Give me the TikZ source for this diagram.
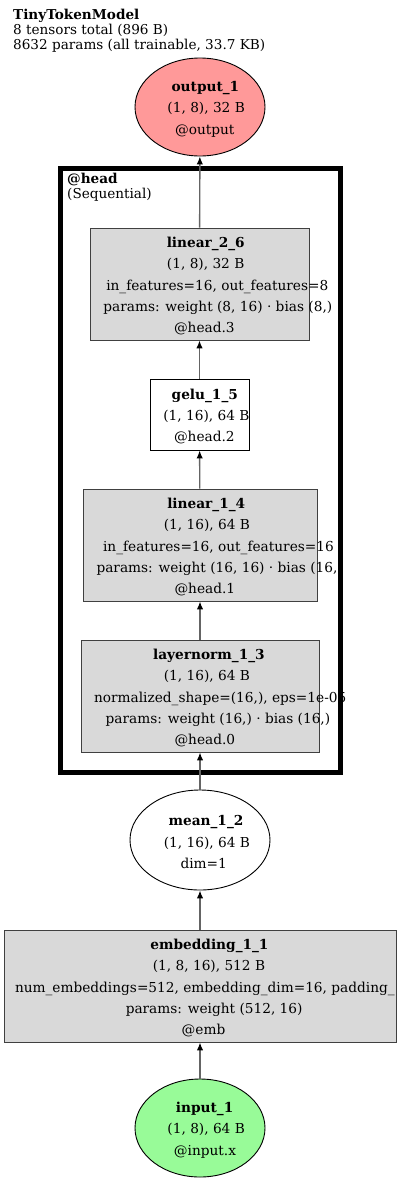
\documentclass[tikz,border=0pt]{standalone}
\usepackage{fontspec}
\setmainfont{DejaVu Serif}
\usetikzlibrary{shapes.geometric,arrows.meta}
\definecolor{outred}{RGB}{255,153,153}
\definecolor{ingreen}{RGB}{152,251,152}
\definecolor{opgray}{RGB}{217,217,217}
\definecolor{edgegray}{RGB}{100,100,100}
\newcommand\nodefont{\fontsize{13.7}{21.2}\selectfont}
\newcommand\titlefont{\fontsize{13.6}{15}\selectfont}
% one text line, set from the left like graphviz does
\newcommand\gvline[1]{\sbox0{#1}\makebox[0pt][l]{\hspace{-0.42\wd0}\usebox0}}
\newcommand\gvhead[1]{\rule{0pt}{14.5pt}\gvline{\textbf{#1}}}
\tikzset{
  gvtext/.style = {inner sep=0pt, align=center, font=\nodefont},
  opbox/.style = {rectangle, draw=black!75, line width=0.9pt, fill=opgray, gvtext},
  plainbox/.style = {rectangle, draw=black, line width=0.9pt, fill=white, gvtext},
  tensor/.style = {ellipse, draw=black, line width=0.9pt, gvtext},
  edge/.style = {draw=edgegray, line width=1.4pt, -{Latex[color=black,length=8pt,width=6.5pt]}},
  cluster/.style = {draw=black, line width=5pt},
}
\begin{document}
\begin{tikzpicture}[x=1pt,y=-1pt]
  \useasboundingbox (0,0) rectangle (400,1186);
  \node (title) [anchor=north west, align=left, inner sep=0pt, font=\titlefont] at (13,9)
    {\textbf{TinyTokenModel}\\8 tensors total (896 B)\\8632 params (all trainable, 33.7 KB)};

  % the @head cluster
  \draw[cluster] (60,168) rectangle (340,772);
  \node (head_label) [anchor=north west, align=left, inner sep=0pt, font=\titlefont] at (67,173)
    {\textbf{@head}\\(Sequential)};

  \node (output_1) [tensor, fill=outred, minimum width=130pt, minimum height=98pt] at (200,107)
    {\gvhead{output\_1}\\\gvline{(1, 8), 32 B}\\\gvline{@output}};
  \node (linear_2_6) [opbox, minimum width=219pt, minimum height=112pt] at (199.5,284)
    {\gvhead{linear\_2\_6}\\\gvline{(1, 8), 32 B}\\\gvline{in\_features=16, out\_features=8}\\
     \gvline{params: weight (8, 16) · bias (8,)}\\\gvline{@head.3}};
  \node (gelu_1_5) [plainbox, minimum width=99pt, minimum height=71pt] at (199.5,414.5)
    {\gvhead{gelu\_1\_5}\\\gvline{(1, 16), 64 B}\\\gvline{@head.2}};
  \node (linear_1_4) [opbox, minimum width=234pt, minimum height=112pt] at (200,545)
    {\gvhead{linear\_1\_4}\\\gvline{(1, 16), 64 B}\\\gvline{in\_features=16, out\_features=16}\\
     \gvline{params: weight (16, 16) · bias (16,)}\\\gvline{@head.1}};
  \node (layernorm_1_3) [opbox, minimum width=238pt, minimum height=112pt] at (200,696)
    {\gvhead{layernorm\_1\_3}\\\gvline{(1, 16), 64 B}\\\gvline{normalized\_shape=(16,), eps=1e-05}\\
     \gvline{params: weight (16,) · bias (16,)}\\\gvline{@head.0}};
  \node (mean_1_2) [tensor, fill=white, minimum width=140pt, minimum height=100pt] at (200,840)
    {\gvhead{mean\_1\_2}\\\gvline{(1, 16), 64 B}\\\gvline{dim=1}};
  \node (embedding_1_1) [opbox, minimum width=392pt, minimum height=112pt] at (200,986)
    {\gvhead{embedding\_1\_1}\\\gvline{(1, 8, 16), 512 B}\\
     \makebox[0pt][l]{\hspace{-185pt}num\_embeddings=512, embedding\_dim=16, padding\_}\\
     \gvline{params: weight (512, 16)}\\\gvline{@emb}};
  \node (input_1) [tensor, fill=ingreen, minimum width=130pt, minimum height=98pt] at (200,1128)
    {\gvhead{input\_1}\\\gvline{(1, 8), 64 B}\\\gvline{@input.x}};

  \draw[edge] (input_1) -- (embedding_1_1);
  \draw[edge] (embedding_1_1) -- (mean_1_2);
  \draw[edge] (mean_1_2) -- (layernorm_1_3);
  \draw[edge] (layernorm_1_3) -- (linear_1_4);
  \draw[edge] (linear_1_4) -- (gelu_1_5);
  \draw[edge] (gelu_1_5) -- (linear_2_6);
  \draw[edge] (linear_2_6) -- (output_1);
\end{tikzpicture}
\end{document}
